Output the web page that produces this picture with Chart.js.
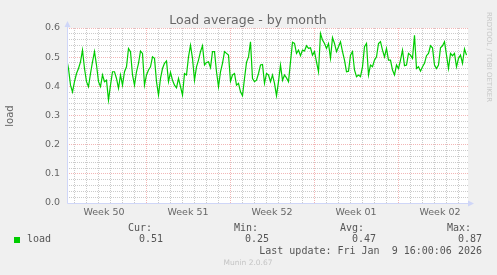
<!DOCTYPE html>
<html>
<head>
<meta charset="utf-8">
<title>Load average - by month</title>
<script src="https://cdn.jsdelivr.net/npm/chart.js@4.4.1/dist/chart.umd.min.js"></script>
<style>
  html, body { margin: 0; padding: 0; background: #f0f0f0; }
  #wrap { position: relative; width: 497px; height: 275px; overflow: hidden; font-family: "DejaVu Sans", sans-serif; color: #666; }
  #chart { position: absolute; left: 0; top: 0; }
  .txt { position: absolute; white-space: pre; line-height: 12px; }
  .mono { font-family: "DejaVu Sans Mono", monospace; font-size: 10px; color: #555; }
  #title { left: 0; width: 496px; top: 12px; text-align: center; font-size: 12.5px; line-height: 15px; }
  #ylabel { left: -10px; width: 40px; top: 110px; text-align: center; font-size: 10px; transform: rotate(-90deg); }
  #rrd { left: 429px; width: 120px; top: 52px; text-align: center; font-size: 7px; line-height: 10px; color: #c8c8c8; transform: rotate(90deg); }
  #munin { left: 0; width: 496px; top: 258px; text-align: center; font-size: 7.5px; line-height: 10px; color: #c4c4c4; }
  #swatch { position: absolute; left: 14px; top: 237px; width: 6px; height: 6px; background: #00cc00; }
</style>
</head>
<body>
<div id="wrap">
  <canvas id="chart" width="497" height="275"></canvas>
  <div id="title" class="txt">Load average - by month</div>
  <div id="ylabel" class="txt">load</div>
  <div id="rrd" class="txt">RRDTOOL / TOBI OETIKER</div>
  <div id="munin" class="txt">Munin 2.0.67</div>
  <div id="swatch"></div>
  <div id="legend"></div>
</div>
<script>
// Load average, one reading every 4 hours
const LOAD = [
  0.484, 0.496, 0.461, 0.404, 0.381, 0.416, 0.444, 0.461, 0.484, 0.524, 0.461, 0.416, 0.399, 0.444, 0.484, 0.519, 0.473,
  0.416, 0.399, 0.439, 0.416, 0.421, 0.353, 0.404, 0.450, 0.450, 0.427, 0.393, 0.439, 0.404, 0.450, 0.467, 0.530, 0.519,
  0.439, 0.404, 0.450, 0.479, 0.521, 0.513, 0.404, 0.439, 0.456, 0.467, 0.501, 0.496, 0.416, 0.370, 0.427, 0.461, 0.479,
  0.487, 0.416, 0.448, 0.421, 0.404, 0.395, 0.427, 0.399, 0.370, 0.444, 0.439, 0.501, 0.541, 0.496, 0.421, 0.467, 0.490,
  0.519, 0.539, 0.473, 0.482, 0.484, 0.464, 0.519, 0.519, 0.450, 0.399, 0.450, 0.479, 0.519, 0.513, 0.507, 0.418, 0.439,
  0.444, 0.404, 0.410, 0.381, 0.368, 0.427, 0.482, 0.501, 0.553, 0.427, 0.416, 0.421, 0.444, 0.473, 0.475, 0.410, 0.444,
  0.439, 0.416, 0.439, 0.410, 0.368, 0.416, 0.473, 0.421, 0.439, 0.429, 0.416, 0.484, 0.551, 0.547, 0.513, 0.524, 0.505,
  0.524, 0.521, 0.539, 0.530, 0.532, 0.507, 0.519, 0.484, 0.450, 0.581, 0.559, 0.547, 0.530, 0.547, 0.496, 0.567, 0.547,
  0.519, 0.536, 0.553, 0.519, 0.490, 0.450, 0.452, 0.507, 0.519, 0.456, 0.433, 0.439, 0.433, 0.467, 0.536, 0.547, 0.439,
  0.473, 0.467, 0.490, 0.501, 0.547, 0.553, 0.524, 0.501, 0.530, 0.490, 0.490, 0.456, 0.439, 0.473, 0.461, 0.490, 0.524,
  0.471, 0.473, 0.513, 0.507, 0.496, 0.575, 0.461, 0.467, 0.452, 0.467, 0.479, 0.505, 0.513, 0.539, 0.532, 0.473,
  0.461, 0.473, 0.532, 0.539, 0.553, 0.507, 0.461, 0.513, 0.505, 0.513, 0.467, 0.496, 0.507, 0.479, 0.528, 0.507
];
const WEEK_LABELS = ['Week 50', 'Week 51', 'Week 52', 'Week 01', 'Week 02'];
const Y_LABELS = ['0.0', '0.1', '0.2', '0.3', '0.4', '0.5', '0.6'];
const STATS = [['Cur:', '0.51'], ['Min:', '0.25'], ['Avg:', '0.47'], ['Max:', '0.87']];
const LAST_UPDATE = 'Last update: Fri Jan  9 16:00:06 2026';

// time axis in hours from the left edge of the plot
const HOUR_MAX = 802;
const DATA_START = -5;
const STEP = 4;
const FIRST_WEEK = 158;   // start of week 51
const WEEK = 168;
const DAY = 24;

const AXIS_COLOR = '#CFD6F8';
const MINOR_GRID = 'rgba(140,140,140,0.45)';
const MAJOR_GRID = 'rgba(224,80,80,0.42)';

// legend block
const legend = document.getElementById('legend');
function addText(text, css) {
  const d = document.createElement('div');
  d.className = 'txt mono';
  d.textContent = text;
  Object.assign(d.style, css);
  legend.appendChild(d);
}
addText('load', { left: '27px', top: '233px' });
const statLeft = [128, 234, 340, 447];
const valueRight = [163, 269, 376, 482];
STATS.forEach((s, i) => {
  addText(s[0], { left: statLeft[i] + 'px', top: '222px' });
  addText(s[1], { right: (497 - valueRight[i]) + 'px', top: '233px' });
});
addText(LAST_UPDATE, { right: '15px', top: '245px' });

const points = LOAD.map((v, i) => ({ x: DATA_START + i * STEP, y: v }));

const dayTicks = [];
for (let h = FIRST_WEEK - 6 * DAY; h < HOUR_MAX; h += DAY) dayTicks.push(h);
const yTicks = [];
for (let k = 0; k <= 30; k++) yTicks.push(k / 50);

const isMajorY = v => Math.abs(v * 10 - Math.round(v * 10)) < 1e-6;

const plotFrame = {
  id: 'plotFrame',
  beforeDraw(chart) {
    const a = chart.chartArea;
    const ctx = chart.ctx;
    ctx.save();
    ctx.fillStyle = '#ffffff';
    ctx.fillRect(a.left, a.top, a.right - a.left, a.bottom - a.top);
    ctx.restore();
  },
  afterDraw(chart) {
    const a = chart.chartArea;
    const ctx = chart.ctx;
    const x0 = Math.round(a.left) + 0.5;
    const y0 = Math.round(a.bottom) + 0.5;
    ctx.save();
    ctx.strokeStyle = AXIS_COLOR;
    ctx.fillStyle = AXIS_COLOR;
    ctx.lineWidth = 1;
    ctx.beginPath();
    ctx.moveTo(x0, y0); ctx.lineTo(x0, a.top - 2);
    ctx.moveTo(x0, y0); ctx.lineTo(a.right + 2, y0);
    ctx.stroke();
    ctx.beginPath();
    ctx.moveTo(x0, a.top - 7); ctx.lineTo(x0 - 3, a.top - 1); ctx.lineTo(x0 + 3, a.top - 1);
    ctx.closePath(); ctx.fill();
    ctx.beginPath();
    ctx.moveTo(a.right + 6, y0); ctx.lineTo(a.right, y0 - 3); ctx.lineTo(a.right, y0 + 3);
    ctx.closePath(); ctx.fill();
    ctx.restore();
  }
};

new Chart(document.getElementById('chart'), {
  type: 'line',
  data: {
    datasets: [{
      label: 'load',
      data: points,
      borderColor: '#00cc00',
      borderWidth: 1.2,
      pointRadius: 0,
      tension: 0
    }]
  },
  options: {
    responsive: false,
    animation: false,
    devicePixelRatio: 1,
    layout: { padding: { left: 0, top: 28, right: 29, bottom: 52 } },
    plugins: { legend: { display: false }, title: { display: false }, tooltip: { enabled: false } },
    scales: {
      x: {
        type: 'linear', position: 'bottom', weight: 0,
        min: 0, max: HOUR_MAX,
        afterBuildTicks: s => { s.ticks = dayTicks.map(v => ({ value: v })); },
        afterFit: s => { s.height = 0; },
        ticks: { display: false },
        grid: {
          drawTicks: false,
          color: c => ((c.tick.value - FIRST_WEEK) % WEEK === 0 ? MAJOR_GRID : MINOR_GRID)
        },
        border: { display: false, dash: [1, 1] }
      },
      xw: {
        type: 'linear', position: 'bottom', weight: 1,
        min: 0, max: HOUR_MAX,
        afterBuildTicks: s => {
          s.ticks = WEEK_LABELS.map((_, i) => ({ value: FIRST_WEEK - WEEK / 2 + i * WEEK }));
        },
        afterFit: s => { s.height = 20; },
        grid: { display: false, drawTicks: false },
        border: { display: false },
        ticks: {
          autoSkip: false, maxRotation: 0, padding: 4, color: '#666',
          font: { family: 'DejaVu Sans', size: 9.5 },
          callback: (v, i) => WEEK_LABELS[i]
        }
      },
      y: {
        min: 0, max: 0.6,
        afterBuildTicks: s => { s.ticks = yTicks.map(v => ({ value: v })); },
        afterFit: s => { s.width = 67; },
        grid: {
          drawTicks: false,
          color: c => (c.tick.value === 0 ? 'rgba(0,0,0,0)' : (isMajorY(c.tick.value) ? MAJOR_GRID : MINOR_GRID))
        },
        border: { display: false, dash: [1, 1] },
        ticks: {
          autoSkip: false, padding: 7, color: '#666',
          font: { family: 'DejaVu Sans', size: 9.5 },
          callback: v => (isMajorY(v) ? Y_LABELS[Math.round(v * 10)] : '')
        }
      }
    }
  },
  plugins: [plotFrame]
});
</script>
</body>
</html>
